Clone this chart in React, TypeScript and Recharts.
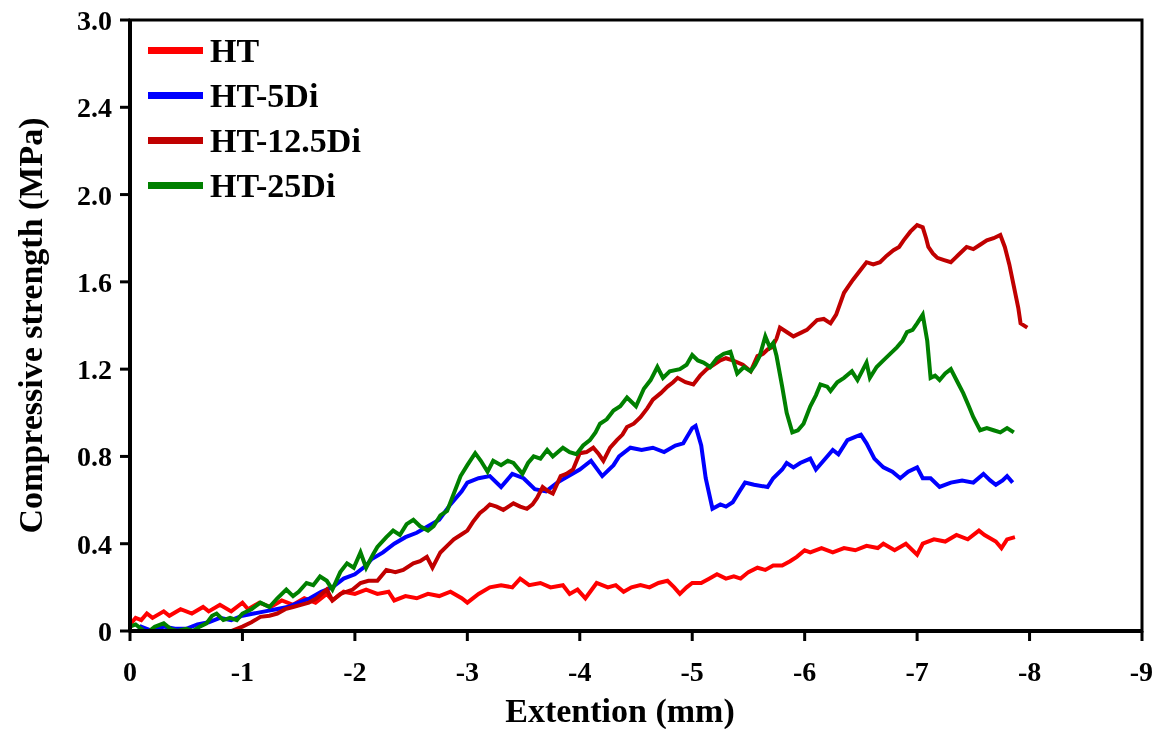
import { LineChart, Line, XAxis, YAxis, Legend, ReferenceArea } from "recharts";

// extension (mm) vs compressive strength (MPa)
const HT: [number, number][] = [
  [0, 0.03], [-0.05, 0.06], [-0.1, 0.05], [-0.15, 0.08], [-0.2, 0.06], [-0.3, 0.09], [-0.35, 0.07],
  [-0.45, 0.1], [-0.55, 0.08], [-0.65, 0.11], [-0.7, 0.09], [-0.8, 0.12], [-0.9, 0.09], [-1.0, 0.13],
  [-1.05, 0.1], [-1.15, 0.13], [-1.25, 0.11], [-1.35, 0.14], [-1.45, 0.12], [-1.55, 0.15], [-1.65, 0.13],
  [-1.75, 0.17], [-1.8, 0.14], [-1.9, 0.18], [-2.0, 0.17], [-2.1, 0.19], [-2.2, 0.17], [-2.3, 0.18],
  [-2.35, 0.14], [-2.45, 0.16], [-2.55, 0.15], [-2.65, 0.17], [-2.75, 0.16], [-2.85, 0.18], [-2.95, 0.15],
  [-3.0, 0.13], [-3.1, 0.17], [-3.2, 0.2], [-3.3, 0.21], [-3.4, 0.2], [-3.47, 0.24], [-3.55, 0.21],
  [-3.65, 0.22], [-3.74, 0.2], [-3.85, 0.21], [-3.91, 0.17], [-3.98, 0.19], [-4.05, 0.15], [-4.15, 0.22],
  [-4.25, 0.2], [-4.32, 0.21], [-4.39, 0.18], [-4.46, 0.2], [-4.54, 0.21], [-4.62, 0.2], [-4.7, 0.22],
  [-4.78, 0.23], [-4.84, 0.2], [-4.89, 0.17], [-4.95, 0.2], [-5.0, 0.22], [-5.08, 0.22], [-5.15, 0.24],
  [-5.22, 0.26], [-5.3, 0.24], [-5.37, 0.25], [-5.43, 0.24], [-5.5, 0.27], [-5.58, 0.29], [-5.65, 0.28],
  [-5.72, 0.3], [-5.8, 0.3], [-5.87, 0.32], [-5.93, 0.34], [-6.0, 0.37], [-6.05, 0.36], [-6.15, 0.38],
  [-6.25, 0.36], [-6.35, 0.38], [-6.45, 0.37], [-6.55, 0.39], [-6.65, 0.38], [-6.7, 0.4], [-6.8, 0.37],
  [-6.9, 0.4], [-7.0, 0.35], [-7.05, 0.4], [-7.15, 0.42], [-7.25, 0.41], [-7.35, 0.44], [-7.45, 0.42],
  [-7.55, 0.46], [-7.6, 0.44], [-7.7, 0.41], [-7.75, 0.38], [-7.8, 0.42], [-7.87, 0.43],
];

const HT5Di: [number, number][] = [
  [0, 0.0], [-0.05, -0.02], [-0.1, 0.02], [-0.2, 0.0], [-0.3, 0.02], [-0.4, 0.01], [-0.5, 0.01],
  [-0.6, 0.03], [-0.7, 0.04], [-0.8, 0.06], [-0.9, 0.05], [-1.0, 0.07], [-1.1, 0.08], [-1.2, 0.09],
  [-1.3, 0.1], [-1.4, 0.11], [-1.5, 0.13], [-1.6, 0.15], [-1.7, 0.18], [-1.75, 0.19], [-1.8, 0.2],
  [-1.9, 0.24], [-2.0, 0.26], [-2.1, 0.3], [-2.15, 0.33], [-2.25, 0.36], [-2.35, 0.4], [-2.45, 0.43],
  [-2.55, 0.45], [-2.65, 0.48], [-2.75, 0.51], [-2.85, 0.58], [-2.95, 0.64], [-3.0, 0.68], [-3.1, 0.7],
  [-3.2, 0.71], [-3.3, 0.66], [-3.4, 0.72], [-3.5, 0.7], [-3.6, 0.65], [-3.7, 0.64], [-3.8, 0.68],
  [-3.9, 0.71], [-4.0, 0.74], [-4.1, 0.78], [-4.2, 0.71], [-4.3, 0.76], [-4.35, 0.8], [-4.45, 0.84],
  [-4.55, 0.83], [-4.65, 0.84], [-4.75, 0.82], [-4.85, 0.85], [-4.92, 0.86], [-5.0, 0.93], [-5.03, 0.94],
  [-5.08, 0.85], [-5.12, 0.7], [-5.18, 0.56], [-5.25, 0.58], [-5.3, 0.57], [-5.36, 0.59], [-5.42, 0.64],
  [-5.47, 0.68], [-5.55, 0.67], [-5.67, 0.66], [-5.72, 0.7], [-5.8, 0.74], [-5.84, 0.77], [-5.9, 0.75],
  [-5.96, 0.77], [-6.05, 0.79], [-6.1, 0.74], [-6.2, 0.8], [-6.25, 0.83], [-6.3, 0.81], [-6.38, 0.875],
  [-6.45, 0.89], [-6.5, 0.9], [-6.55, 0.86], [-6.62, 0.79], [-6.7, 0.75], [-6.78, 0.73], [-6.85, 0.7],
  [-6.92, 0.73], [-7.0, 0.75], [-7.05, 0.7], [-7.12, 0.7], [-7.2, 0.66], [-7.3, 0.68], [-7.4, 0.69],
  [-7.5, 0.68], [-7.59, 0.72], [-7.65, 0.69], [-7.7, 0.67], [-7.76, 0.69], [-7.8, 0.71], [-7.85, 0.68],
];

const HT125Di: [number, number][] = [
  [0, -0.05], [-0.05, -0.02], [-0.1, -0.04], [-0.15, -0.03], [-0.2, -0.01], [-0.25, -0.04], [-0.3, -0.02],
  [-0.38, -0.01], [-0.45, -0.03], [-0.5, -0.065], [-0.56, -0.01], [-0.65, -0.02], [-0.72, 0.0], [-0.8, -0.02],
  [-0.9, 0.0], [-1.0, 0.02], [-1.08, 0.04], [-1.16, 0.065], [-1.24, 0.07], [-1.31, 0.08], [-1.38, 0.1],
  [-1.45, 0.11], [-1.52, 0.12], [-1.59, 0.13], [-1.66, 0.15], [-1.75, 0.19], [-1.8, 0.14], [-1.87, 0.17],
  [-1.98, 0.19], [-2.05, 0.22], [-2.12, 0.23], [-2.2, 0.23], [-2.28, 0.28], [-2.36, 0.27], [-2.43, 0.28],
  [-2.52, 0.31], [-2.58, 0.32], [-2.64, 0.34], [-2.69, 0.29], [-2.76, 0.36], [-2.82, 0.39], [-2.88, 0.42],
  [-2.94, 0.44], [-3.0, 0.46], [-3.05, 0.5], [-3.11, 0.54], [-3.16, 0.56], [-3.2, 0.58], [-3.26, 0.57],
  [-3.32, 0.555], [-3.41, 0.585], [-3.47, 0.57], [-3.53, 0.56], [-3.58, 0.58], [-3.62, 0.61], [-3.67, 0.66],
  [-3.72, 0.64], [-3.76, 0.63], [-3.83, 0.71], [-3.88, 0.72], [-3.94, 0.74], [-4.0, 0.815], [-4.06, 0.82],
  [-4.12, 0.84], [-4.17, 0.81], [-4.21, 0.78], [-4.27, 0.84], [-4.33, 0.875], [-4.38, 0.9], [-4.42, 0.935],
  [-4.48, 0.95], [-4.54, 0.98], [-4.6, 1.02], [-4.65, 1.06], [-4.72, 1.09], [-4.78, 1.12], [-4.83, 1.14],
  [-4.87, 1.16], [-4.94, 1.14], [-5.01, 1.13], [-5.07, 1.17], [-5.13, 1.2], [-5.19, 1.22], [-5.25, 1.24],
  [-5.3, 1.25], [-5.36, 1.24], [-5.45, 1.22], [-5.52, 1.19], [-5.58, 1.26], [-5.63, 1.27], [-5.67, 1.29],
  [-5.71, 1.3], [-5.75, 1.34], [-5.78, 1.39], [-5.84, 1.37], [-5.9, 1.35], [-5.96, 1.365], [-6.02, 1.38],
  [-6.08, 1.41], [-6.11, 1.425], [-6.17, 1.43], [-6.23, 1.41], [-6.28, 1.45], [-6.35, 1.55], [-6.39, 1.58],
  [-6.43, 1.61], [-6.49, 1.65], [-6.55, 1.69], [-6.61, 1.68], [-6.67, 1.69], [-6.73, 1.72], [-6.79, 1.745],
  [-6.84, 1.76], [-6.88, 1.79], [-6.94, 1.83], [-7.0, 1.86], [-7.05, 1.85], [-7.08, 1.8], [-7.1, 1.76],
  [-7.14, 1.73], [-7.18, 1.71], [-7.24, 1.7], [-7.3, 1.69], [-7.34, 1.71], [-7.38, 1.73], [-7.44, 1.76],
  [-7.5, 1.75], [-7.56, 1.77], [-7.62, 1.79], [-7.68, 1.8], [-7.74, 1.815], [-7.78, 1.76], [-7.82, 1.68],
  [-7.86, 1.58], [-7.9, 1.48], [-7.92, 1.41], [-7.98, 1.39],
];

const HT25Di: [number, number][] = [
  [0, 0.02], [-0.05, 0.03], [-0.15, -0.01], [-0.22, 0.02], [-0.3, 0.035], [-0.36, 0.01], [-0.42, 0.0],
  [-0.5, 0.01], [-0.56, 0.0], [-0.62, 0.02], [-0.68, 0.035], [-0.73, 0.07], [-0.77, 0.08], [-0.83, 0.05],
  [-0.89, 0.06], [-0.95, 0.05], [-1.0, 0.08], [-1.08, 0.1], [-1.16, 0.13], [-1.24, 0.11], [-1.31, 0.15],
  [-1.39, 0.19], [-1.45, 0.16], [-1.5, 0.18], [-1.57, 0.22], [-1.63, 0.21], [-1.69, 0.25], [-1.75, 0.23],
  [-1.8, 0.19], [-1.87, 0.27], [-1.93, 0.31], [-1.99, 0.29], [-2.05, 0.36], [-2.1, 0.29], [-2.16, 0.35],
  [-2.2, 0.385], [-2.28, 0.43], [-2.34, 0.46], [-2.4, 0.44], [-2.46, 0.49], [-2.52, 0.51], [-2.58, 0.48],
  [-2.65, 0.46], [-2.7, 0.48], [-2.76, 0.53], [-2.82, 0.55], [-2.88, 0.63], [-2.94, 0.71], [-3.0, 0.76],
  [-3.07, 0.815], [-3.12, 0.78], [-3.18, 0.73], [-3.23, 0.78], [-3.3, 0.76], [-3.36, 0.78], [-3.41, 0.77],
  [-3.49, 0.72], [-3.54, 0.77], [-3.59, 0.8], [-3.65, 0.79], [-3.71, 0.83], [-3.76, 0.8], [-3.85, 0.84],
  [-3.91, 0.82], [-3.97, 0.81], [-4.03, 0.85], [-4.09, 0.875], [-4.14, 0.91], [-4.18, 0.95], [-4.24, 0.97],
  [-4.3, 1.01], [-4.36, 1.03], [-4.42, 1.07], [-4.5, 1.03], [-4.57, 1.11], [-4.63, 1.15], [-4.69, 1.21],
  [-4.74, 1.16], [-4.8, 1.19], [-4.89, 1.2], [-4.95, 1.22], [-5.0, 1.265], [-5.05, 1.24], [-5.1, 1.23],
  [-5.16, 1.21], [-5.22, 1.25], [-5.28, 1.27], [-5.34, 1.28], [-5.4, 1.18], [-5.46, 1.21], [-5.52, 1.19],
  [-5.56, 1.22], [-5.6, 1.26], [-5.65, 1.35], [-5.69, 1.3], [-5.72, 1.32], [-5.75, 1.26], [-5.8, 1.12],
  [-5.84, 1.0], [-5.89, 0.91], [-5.94, 0.92], [-5.99, 0.95], [-6.05, 1.03], [-6.1, 1.08], [-6.14, 1.13],
  [-6.2, 1.12], [-6.23, 1.1], [-6.29, 1.14], [-6.35, 1.16], [-6.42, 1.19], [-6.47, 1.15], [-6.52, 1.2],
  [-6.55, 1.23], [-6.58, 1.16], [-6.64, 1.21], [-6.7, 1.24], [-6.76, 1.27], [-6.82, 1.3], [-6.87, 1.33],
  [-6.91, 1.37], [-6.96, 1.38], [-7.0, 1.41], [-7.05, 1.45], [-7.09, 1.33], [-7.12, 1.16], [-7.16, 1.17],
  [-7.2, 1.15], [-7.25, 1.18], [-7.3, 1.2], [-7.36, 1.14], [-7.41, 1.09], [-7.46, 1.03], [-7.5, 0.98],
  [-7.56, 0.92], [-7.62, 0.93], [-7.68, 0.92], [-7.74, 0.91], [-7.8, 0.93], [-7.86, 0.91],
];

const xTicks = [0, -1, -2, -3, -4, -5, -6, -7, -8, -9];
const yTicks = [0, 0.4, 0.8, 1.2, 1.6, 2.0, 2.4, 2.8];
const yTickLabels = ["0", "0.4", "0.8", "1.2", "1.6", "2.0", "2.4", "3.0"];

const series = [
  { name: "HT", color: "#FF0000", points: HT },
  { name: "HT-5Di", color: "#0000FF", points: HT5Di },
  { name: "HT-12.5Di", color: "#C00000", points: HT125Di },
  { name: "HT-25Di", color: "#008000", points: HT25Di },
];

const FONT = "'Liberation Serif', 'Times New Roman', serif";

function LegendBox() {
  return (
    <div style={{ fontFamily: FONT, fontWeight: "bold", fontSize: 34, color: "#000", lineHeight: 1 }}>
      {series.map((s) => (
        <div key={s.name} style={{ display: "flex", alignItems: "center", height: 45 }}>
          <div style={{ width: 55, height: 7, background: s.color, marginRight: 7 }} />
          <span>{s.name}</span>
        </div>
      ))}
    </div>
  );
}

export default function App() {
  const tickStyle = { fontFamily: FONT, fontWeight: "bold", fontSize: 28, fill: "#000" };
  return (
    <div style={{ position: "fixed", left: 0, top: 0 }}>
      <LineChart width={1153} height={729} margin={{ top: 20, right: 11, bottom: 0, left: 0 }}>
        <ReferenceArea x1={-9} x2={0} y1={0} y2={2.8} fill="none" stroke="#000" strokeWidth={3} />
        <XAxis
          type="number"
          dataKey="x"
          domain={[-9, 0]}
          reversed
          ticks={xTicks}
          allowDataOverflow
          height={98}
          tick={tickStyle}
          tickSize={10}
          tickMargin={20}
          axisLine={{ stroke: "#000", strokeWidth: 4 }}
          tickLine={{ stroke: "#000", strokeWidth: 3 }}
          label={{
            value: "Extention (mm)",
            position: "insideBottom",
            offset: 7,
            dx: -16,
            style: { fontFamily: FONT, fontWeight: "bold", fontSize: 34, fill: "#000" },
          }}
        />
        <YAxis
          type="number"
          dataKey="y"
          domain={[0, 2.8]}
          ticks={yTicks}
          allowDataOverflow
          width={130}
          tick={tickStyle}
          tickSize={10}
          tickMargin={8}
          tickFormatter={(v: number) => yTickLabels[yTicks.findIndex((t) => Math.abs(t - v) < 1e-6)] ?? String(v)}
          axisLine={{ stroke: "#000", strokeWidth: 4 }}
          tickLine={{ stroke: "#000", strokeWidth: 3 }}
          label={{
            value: "Compressive strength (MPa)",
            angle: -90,
            position: "insideLeft",
            offset: 30,
            style: { fontFamily: FONT, fontWeight: "bold", fontSize: 34, fill: "#000", textAnchor: "middle" },
          }}
        />
        <Legend
          layout="vertical"
          verticalAlign="middle"
          align="center"
          content={() => <LegendBox />}
          wrapperStyle={{ left: 148, top: 28, width: "auto" }}
        />
        {series.map((s) => (
          <Line
            key={s.name}
            name={s.name}
            data={s.points.map(([x, y]) => ({ x, y }))}
            dataKey="y"
            type="linear"
            stroke={s.color}
            strokeWidth={4}
            dot={false}
            activeDot={false}
            isAnimationActive={false}
          />
        ))}
      </LineChart>
    </div>
  );
}
